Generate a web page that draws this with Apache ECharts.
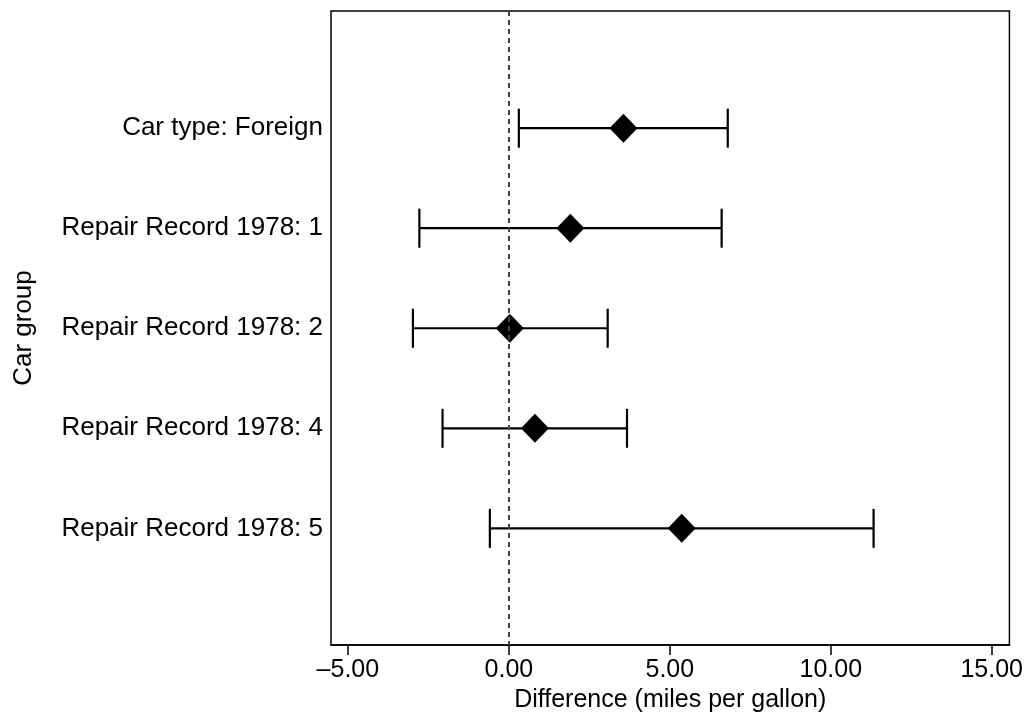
<!DOCTYPE html>
<html>
<head>
<meta charset="utf-8">
<script src="https://cdn.jsdelivr.net/npm/echarts@6/dist/echarts.min.js"></script>
<style>
  html, body { margin: 0; padding: 0; background: #fff; }
  #main { width: 1026px; height: 718px; }
</style>
</head>
<body>
<div id="main"></div>
<script>
  // 组别 / 点估计 / 置信区间
  var groups = ['Car type: Foreign', 'Repair Record 1978: 1', 'Repair Record 1978: 2', 'Repair Record 1978: 4', 'Repair Record 1978: 5'];
  var estimate = [3.56, 1.91, 0.03, 0.81, 5.37];
  var lower = [0.31, -2.78, -2.98, -2.06, -0.59];
  var upper = [6.80, 6.61, 3.07, 3.67, 11.33];
  var xTicks = [-5, 0, 5, 10, 15];
  var rowPos = [1, 2, 3, 4, 5];

  var fontName = "'Liberation Sans', Arial, Helvetica, sans-serif";

  var barData = [];
  var pointData = [];
  for (var i = 0; i < groups.length; i++) {
    barData.push([lower[i], upper[i], rowPos[i]]);
    pointData.push([estimate[i], rowPos[i]]);
  }

  function fmtTick(v) {
    if (v < 0) return '\u2013' + Math.abs(v).toFixed(2);
    return v.toFixed(2);
  }

  var myChart = echarts.init(document.getElementById('main'));

  var option = {
    animation: false,
    backgroundColor: '#fff',
    grid: {
      left: 331, right: 16, top: 11, bottom: 70,
      show: true, borderColor: '#000', borderWidth: 1.5
    },
    xAxis: {
      type: 'value',
      min: -5.525, max: 15.55,
      name: 'Difference (miles per gallon)',
      nameLocation: 'middle',
      nameGap: 40,
      nameTextStyle: { color: '#000', fontSize: 25, fontFamily: fontName },
      axisLine: { show: true, onZero: false, lineStyle: { color: '#000', width: 1.5 } },
      axisTick: { show: true, length: 10, customValues: xTicks, lineStyle: { color: '#000', width: 1.5 } },
      axisLabel: {
        customValues: xTicks,
        margin: 13,
        color: '#000', fontSize: 25, fontFamily: fontName,
        formatter: function (v) { return fmtTick(v); }
      },
      splitLine: { show: false }
    },
    yAxis: {
      type: 'value',
      inverse: true,
      min: -0.171, max: 6.167,
      name: 'Car group',
      nameLocation: 'middle',
      nameRotate: 90,
      nameGap: 294,
      nameTextStyle: { color: '#000', fontSize: 26, fontFamily: fontName },
      axisLine: { show: false, onZero: false },
      axisTick: { show: false },
      axisLabel: {
        customValues: rowPos,
        margin: 8,
        color: '#000', fontSize: 26, fontFamily: fontName,
        formatter: function (v) { return groups[Math.round(v) - 1] || ''; }
      },
      splitLine: { show: false }
    },
    series: [
      {
        // 置信区间 + 端帽
        type: 'custom',
        data: barData,
        encode: { x: [0, 1], y: 2 },
        renderItem: function (params, api) {
          var p0 = api.coord([api.value(0), api.value(2)]);
          var p1 = api.coord([api.value(1), api.value(2)]);
          var h = 19.5;
          var st = { stroke: '#000', lineWidth: 2.2 };
          return {
            type: 'group',
            children: [
              { type: 'line', shape: { x1: p0[0], y1: p0[1], x2: p1[0], y2: p1[1] }, style: st },
              { type: 'line', shape: { x1: p0[0], y1: p0[1] - h, x2: p0[0], y2: p0[1] + h }, style: st },
              { type: 'line', shape: { x1: p1[0], y1: p1[1] - h, x2: p1[0], y2: p1[1] + h }, style: st }
            ]
          };
        },
        markLine: {
          silent: true,
          symbol: 'none',
          label: { show: false },
          lineStyle: { color: '#444', width: 2, type: [5, 4] },
          data: [{ xAxis: 0 }]
        },
        z: 2
      },
      {
        // 点估计
        type: 'scatter',
        data: pointData,
        symbol: 'diamond',
        symbolSize: [28, 29],
        itemStyle: { color: '#000', opacity: 1 },
        z: 3
      }
    ]
  };
  myChart.setOption(option);
</script>
</body>
</html>
